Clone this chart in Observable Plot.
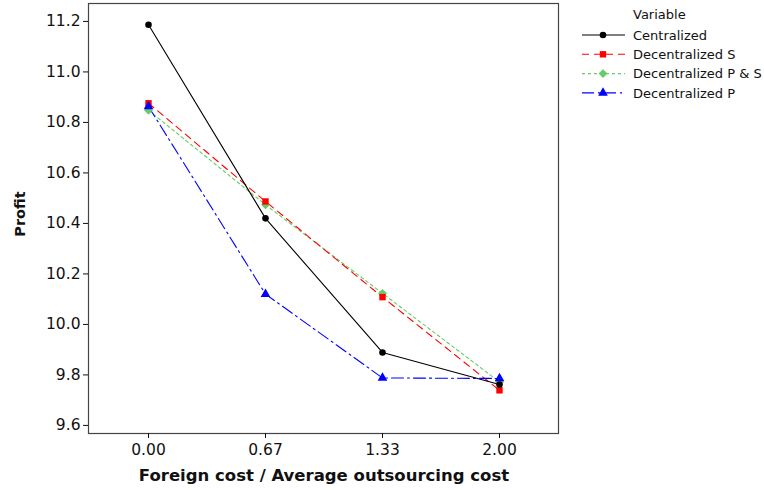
<!DOCTYPE html>
<html>
<head>
<meta charset="utf-8">
<script src="https://cdn.jsdelivr.net/npm/d3@7"></script>
<script src="https://cdn.jsdelivr.net/npm/@observablehq/plot@0.6"></script>
<style>
  body { margin: 0; background: #fff; }
  #chart svg { font-family: "DejaVu Sans", sans-serif; }
  #chart svg g[aria-label="x-axis tick label"], #chart svg g[aria-label="x-axis tick label"] text,
  #chart svg g[aria-label="y-axis tick label"], #chart svg g[aria-label="y-axis tick label"] text { font-size: 15.5px; }
</style>
</head>
<body>
<div id="chart"></div>
<script>
const xLabels = ["0.00", "0.67", "1.33", "2.00"];
const seriesNames = ["Centralized", "Decentralized S", "Decentralized P & S", "Decentralized P"];
const centralized = [11.187, 10.42, 9.889, 9.762];
const decentralizedS = [10.876, 10.487, 10.108, 9.739];
const decentralizedPS = [10.848, 10.474, 10.123, 9.772];
const decentralizedP = [10.863, 10.12, 9.788, 9.786];
const yTicks = [9.6, 9.8, 10.0, 10.2, 10.4, 10.6, 10.8, 11.0, 11.2];
const legendTitle = "Variable";
const xTitle = "Foreign cost / Average outsourcing cost";
const yTitle = "Profit";

const seriesValues = [centralized, decentralizedS, decentralizedPS, decentralizedP];
const styles = [
  {color: "#000000", dash: null, symbol: "circle", r: 3.3},
  {color: "#ff0000", dash: "7,5", symbol: "square", r: 3.6},
  {color: "#66cc66", dash: "3,3", symbol: "diamond2", r: 4.0},
  {color: "#0000ff", dash: "12,4,2,4", symbol: "triangle", r: 3.6}
];

const rows = [];
seriesNames.forEach((name, i) => {
  seriesValues[i].forEach((v, j) => rows.push({series: name, x: xLabels[j], y: v, idx: i}));
});

const marks = [Plot.frame({stroke: "#444", strokeWidth: 1.2})];
const order = [2, 1, 0, 3];
order.forEach(i => {
  const d = rows.filter(r => r.idx === i);
  const s = styles[i];
  marks.push(Plot.line(d, {x: "x", y: "y", stroke: s.color, strokeWidth: 1.1, strokeDasharray: s.dash}));
});
order.forEach(i => {
  const d = rows.filter(r => r.idx === i);
  const s = styles[i];
  marks.push(Plot.dot(d, {x: "x", y: "y", fill: s.color, stroke: "none", symbol: () => s.symbol, r: s.r}));
});

const chart = Plot.plot({
  width: 764,
  height: 490,
  marginLeft: 88,
  marginRight: 206,
  marginTop: 3,
  marginBottom: 57,
  style: {fontFamily: "DejaVu Sans, sans-serif", fontSize: "15.5px", color: "#111", background: "#fff"},
  symbol: {type: "identity"},
  x: {type: "point", domain: xLabels, padding: 0.5, label: null},
  y: {domain: [9.568, 11.271], label: null},
  marks: [
    ...marks,
    Plot.axisX({tickSize: 5, tickPadding: 5, label: null}),
    Plot.axisY({ticks: yTicks, tickFormat: ".1f", tickSize: 5, tickPadding: 3, label: null})
  ]
});

const svg = d3.select(chart);
svg.append("text")
  .attr("x", 324).attr("y", 481)
  .attr("text-anchor", "middle")
  .attr("font-weight", "bold").attr("font-size", 16.5).attr("fill", "#111")
  .text(xTitle);
svg.append("text")
  .attr("transform", "translate(25,214) rotate(-90)")
  .attr("text-anchor", "middle")
  .attr("font-weight", "bold").attr("font-size", 14.5).attr("fill", "#111")
  .text(yTitle);

const lg = svg.append("g").attr("font-size", 13).attr("fill", "#111").attr("text-anchor", "start");
lg.append("text").attr("x", 633).attr("y", 19).text(legendTitle);
seriesNames.forEach((name, i) => {
  const y = 35 + i * 19.3;
  const s = styles[i];
  lg.append("line").attr("x1", 582).attr("x2", 625).attr("y1", y).attr("y2", y)
    .attr("stroke", s.color).attr("stroke-width", 1.1)
    .attr("stroke-dasharray", s.dash);
  const sym = {circle: d3.symbolCircle, square: d3.symbolSquare, diamond2: d3.symbolSquare2, triangle: d3.symbolTriangle}[s.symbol];
  lg.append("path")
    .attr("d", d3.symbol(sym, Math.PI * s.r * s.r)())
    .attr("transform", s.symbol === "diamond2" ? `translate(603,${y}) rotate(45)` : `translate(603,${y})`)
    .attr("fill", s.color);
  lg.append("text").attr("x", 633).attr("y", y + 4.8).text(name);
});

document.getElementById("chart").appendChild(chart);
</script>
</body>
</html>
